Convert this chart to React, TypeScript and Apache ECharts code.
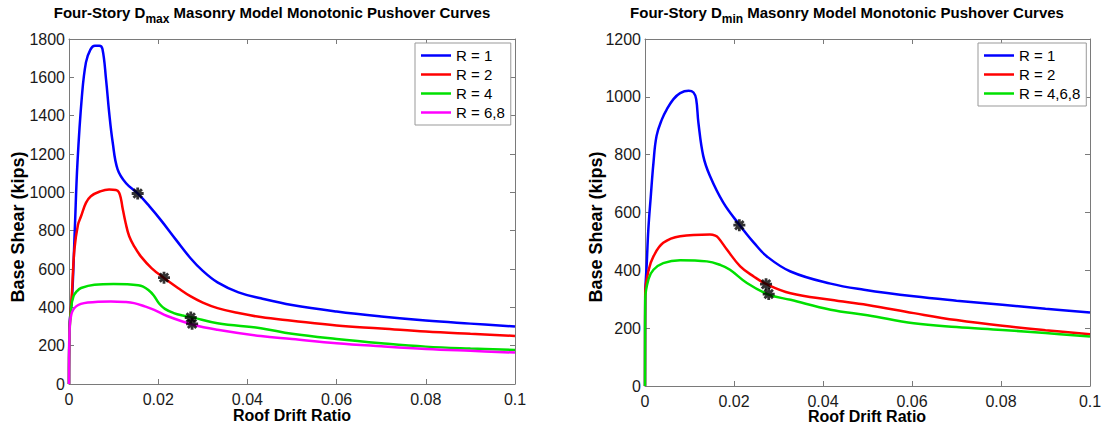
import React, { useEffect, useRef } from "react";
import * as echarts from "echarts";

type Pt = [number, number];

const xTicks = [0, 0.02, 0.04, 0.06, 0.08, 0.1];
const leftNames = ["R = 1", "R = 2", "R = 4", "R = 6,8"];
const rightNames = ["R = 1", "R = 2", "R = 4,6,8"];
const leftColors = ["#0000ff", "#ff0000", "#00e000", "#ff00ff"];
const rightColors = ["#0000ff", "#ff0000", "#00e000"];

const dmaxR1: Pt[] = [[0,0],[0.0001,300],[0.0007,457],[0.0013,806],[0.0019,1155],[0.0029,1503],[0.0038,1678],[0.0048,1745],[0.0058,1765],[0.0068,1765],[0.0075,1748],[0.0083,1591],[0.009,1417],[0.0098,1260],[0.0109,1120],[0.0128,1047],[0.0154,994],[0.018,928],[0.0206,855],[0.024,752],[0.0273,655],[0.03,590],[0.0333,530],[0.038,478],[0.043,447],[0.05,412],[0.06,378],[0.07,352],[0.08,331],[0.09,315],[0.1,300]];
const dmaxR2: Pt[] = [[0,0],[0.0001,260],[0.0007,492],[0.0012,700],[0.002,830],[0.0027,875],[0.0038,945],[0.0049,980],[0.007,1005],[0.009,1015],[0.0105,1012],[0.0112,1000],[0.0117,960],[0.012,920],[0.0127,840],[0.0135,771],[0.0147,715],[0.0161,666],[0.0185,605],[0.0213,553],[0.0245,500],[0.0273,457],[0.03,425],[0.0333,396],[0.038,370],[0.043,349],[0.05,330],[0.06,305],[0.07,290],[0.08,274],[0.09,262],[0.1,251]];
const dmaxR4: Pt[] = [[0,0],[0.0001,250],[0.0005,400],[0.001,457],[0.0018,485],[0.0027,501],[0.0057,518],[0.01,522],[0.0131,520],[0.0155,515],[0.0165,509],[0.0178,490],[0.019,462],[0.0202,420],[0.0215,392],[0.0235,370],[0.0255,357],[0.0274,349],[0.0333,317],[0.043,291],[0.05,262],[0.06,235],[0.07,213],[0.08,195],[0.09,185],[0.1,178]];
const dmaxR68: Pt[] = [[0,0],[0.0001,250],[0.0005,360],[0.0016,405],[0.0042,425],[0.0094,431],[0.0125,428],[0.0146,422],[0.017,405],[0.0191,387],[0.022,355],[0.0279,309],[0.0333,283],[0.043,250],[0.05,235],[0.06,213],[0.07,197],[0.08,183],[0.09,173],[0.1,164]];
const dmaxStars: Pt[] = [[0.0154,994],[0.0213,555],[0.0273,347],[0.0276,314]];

const dminR1: Pt[] = [[0,0],[0.00005,310],[0.0004,425],[0.00075,541],[0.0013,656],[0.0019,772],[0.0026,865],[0.0038,922],[0.0049,957],[0.0064,992],[0.0079,1013],[0.0098,1021],[0.0109,1015],[0.0115,992],[0.012,911],[0.0131,795],[0.0146,726],[0.0176,634],[0.0212,558],[0.0245,495],[0.0274,448],[0.0327,396],[0.0417,354],[0.0492,333],[0.0604,310],[0.07,295],[0.0803,281],[0.09,267],[0.1,254]];
const dminR2: Pt[] = [[0,0],[0.00005,320],[0.0008,400],[0.0019,448],[0.0041,495],[0.0079,518],[0.0146,524],[0.0158,520],[0.0165,512],[0.0184,472],[0.0214,414],[0.0245,378],[0.0272,353],[0.0327,321],[0.0417,298],[0.05,280],[0.0604,252],[0.07,228],[0.0803,208],[0.09,193],[0.1,179]];
const dminR468: Pt[] = [[0,0],[0.00005,300],[0.0008,370],[0.0019,402],[0.0041,425],[0.0079,435],[0.0139,431],[0.017,418],[0.0191,402],[0.0229,356],[0.0278,316],[0.0327,298],[0.0417,264],[0.05,245],[0.0604,217],[0.07,204],[0.0803,194],[0.09,183],[0.1,171]];
const dminStars: Pt[] = [[0.0212,556],[0.0272,352],[0.0278,318]];

const FONT = "'Liberation Sans', Arial, sans-serif";
const AXIS_GRAY = "#7a7a7a";
const LABEL_COLOR = "#1a1a1a";
const ASTERISK = "path://M10,0L10,20M0,10L20,10M3,3L17,17M3,17L17,3";

function xAxes(gridIndex: number) {
  const common = {
    type: "value" as const,
    gridIndex,
    min: xTicks[0],
    max: xTicks[xTicks.length - 1],
    interval: xTicks[1] - xTicks[0],
    splitLine: { show: false },
    axisLine: { show: true, onZero: false, lineStyle: { color: AXIS_GRAY, width: 1 } },
    axisTick: { show: true, inside: true, length: 5, lineStyle: { color: AXIS_GRAY } },
  };
  return [
    {
      ...common,
      position: "bottom",
      axisLabel: {
        margin: 7,
        fontSize: 16,
        fontFamily: FONT,
        color: LABEL_COLOR,
        formatter: (v: number) => String(+v.toFixed(2)),
      },
    },
    { ...common, position: "top", axisLabel: { show: false } },
  ];
}

function yAxes(gridIndex: number, max: number) {
  const common = {
    type: "value" as const,
    gridIndex,
    min: 0,
    max,
    interval: 200,
    splitLine: { show: false },
    axisLine: { show: true, onZero: false, lineStyle: { color: AXIS_GRAY, width: 1 } },
    axisTick: { show: true, inside: true, length: 5, lineStyle: { color: AXIS_GRAY } },
  };
  return [
    {
      ...common,
      position: "left",
      axisLabel: {
        margin: 4,
        fontSize: 16,
        fontFamily: FONT,
        color: LABEL_COLOR,
        formatter: (v: number) => String(v),
      },
    },
    { ...common, position: "right", axisLabel: { show: false } },
  ];
}

function lineSeries(name: string, data: Pt[], color: string, axisIdx: number) {
  return {
    type: "line",
    name,
    data,
    xAxisIndex: axisIdx,
    yAxisIndex: axisIdx,
    showSymbol: false,
    symbol: "none",
    smooth: 0.4,
    lineStyle: { color, width: 2.5 },
    itemStyle: { color },
    clip: true,
    z: 2,
  };
}

function starSeries(data: Pt[], axisIdx: number) {
  return {
    type: "scatter",
    name: "stars",
    data,
    xAxisIndex: axisIdx,
    yAxisIndex: axisIdx,
    symbol: ASTERISK,
    symbolSize: 12,
    itemStyle: { color: "#000", borderColor: "#000", borderWidth: 2.8 },
    z: 5,
  };
}

function titleText(x: number, sub: string) {
  return {
    type: "text",
    x,
    y: 3,
    style: {
      text: `{m|Four-Story D}{s|${sub}}{m| Masonry Model Monotonic Pushover Curves}`,
      align: "center",
      verticalAlign: "top",
      fill: "#000",
      rich: {
        m: { fontSize: 15, fontWeight: "bold", fontFamily: FONT, lineHeight: 18, fill: "#000", color: "#000" },
        s: { fontSize: 12, fontWeight: "bold", fontFamily: FONT, lineHeight: 12, padding: [14, 0, 0, 0], fill: "#000", color: "#000" },
      },
    },
  };
}

function yName(x: number, y: number) {
  return {
    type: "text",
    x,
    y,
    rotation: Math.PI / 2,
    style: {
      text: "Base Shear (kips)",
      align: "center",
      verticalAlign: "middle",
      fill: "#000",
      font: `bold 18px ${FONT}`,
    },
  };
}

function xName(x: number, y: number) {
  return {
    type: "text",
    x,
    y,
    style: {
      text: "Roof Drift Ratio",
      align: "center",
      verticalAlign: "middle",
      fill: "#000",
      font: `bold 16px ${FONT}`,
    },
  };
}

function legend(names: string[], left: number) {
  return {
    data: names.map((n) => ({ name: n, icon: "rect" })),
    orient: "vertical",
    left,
    top: 43,
    itemWidth: 30,
    itemHeight: 2.5,
    itemGap: 4,
    padding: [5, 6, 5, 6],
    borderColor: "#999",
    borderWidth: 1,
    backgroundColor: "#fff",
    textStyle: { fontSize: 15, fontFamily: FONT, color: "#000" },
    selectedMode: false,
  };
}

export default function App() {
  const ref = useRef<HTMLDivElement>(null);
  useEffect(() => {
    if (!ref.current) return;
    const chart = echarts.init(ref.current, null, { renderer: "svg" });
    const dmax = [dmaxR1, dmaxR2, dmaxR4, dmaxR68];
    const dmin = [dminR1, dminR2, dminR468];
    const option: any = {
      animation: false,
      backgroundColor: "#fff",
      grid: [
        { left: 69, right: 1104 - 515, top: 39, bottom: 427 - 384, outerBoundsMode: "none", containLabel: false },
        { left: 645, right: 1104 - 1090, top: 39, bottom: 427 - 386, outerBoundsMode: "none", containLabel: false },
      ],
      xAxis: [...xAxes(0), ...xAxes(1)],
      yAxis: [...yAxes(0, 1800), ...yAxes(1, 1200)],
      legend: [legend(leftNames, 415), legend(rightNames, 978)],
      graphic: [
        titleText(272, "max"),
        titleText(847, "min"),
        yName(18, 227),
        yName(596, 227),
        xName(292, 415),
        xName(867, 416),
      ],
      series: [
        ...dmax.map((d, i) => lineSeries(leftNames[i], d, leftColors[i], 0)),
        starSeries(dmaxStars, 0),
        ...dmin.map((d, i) => lineSeries(rightNames[i], d, rightColors[i], 2)),
        starSeries(dminStars, 2),
      ],
    };
    chart.setOption(option);
    return () => chart.dispose();
  }, []);
  return (
    <div
      ref={ref}
      style={{ position: "fixed", left: 0, top: 0, width: 1104, height: 427, background: "#fff" }}
    />
  );
}
